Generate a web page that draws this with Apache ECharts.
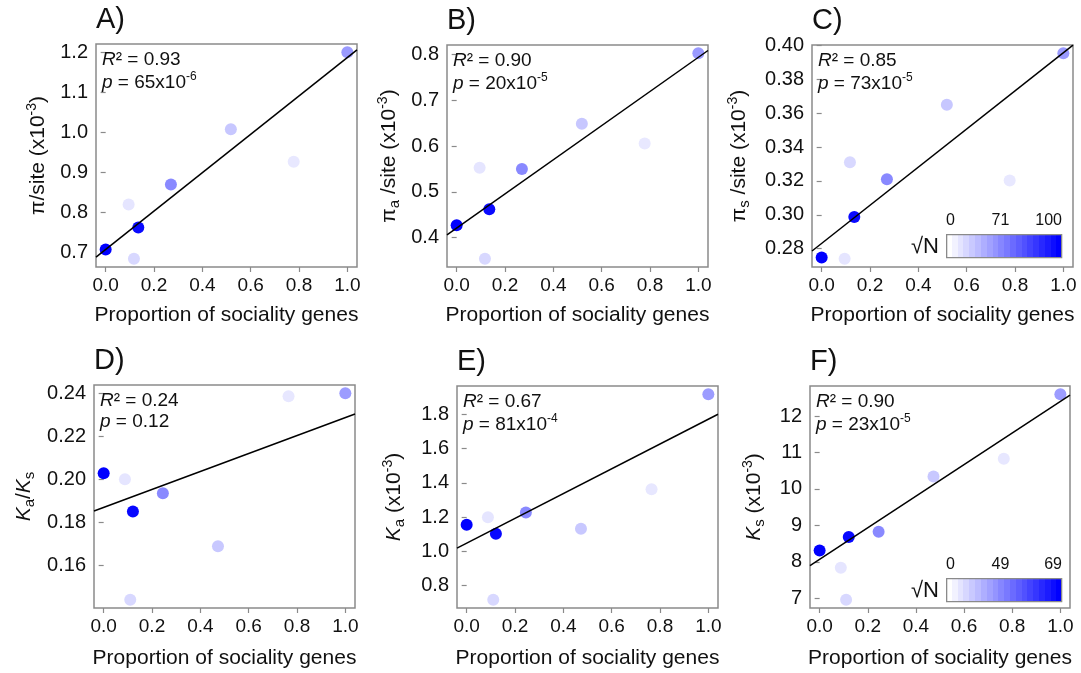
<!DOCTYPE html>
<html><head><meta charset="utf-8">
<script src="https://cdn.jsdelivr.net/npm/echarts@6/dist/echarts.min.js"></script>
<style>html,body{margin:0;padding:0;background:#fff}#c{width:1081px;height:673px}</style>
</head><body><div id="c"></div>
<script>
// ---------- DATA ----------
const xTop    = [0, 0.095, 0.117, 0.135, 0.27, 0.518, 0.778, 1.0];
const xBottom = [0, 0.088, 0.110, 0.121, 0.245, 0.473, 0.765, 1.0];
const sqrtNTop    = [100, 32, 39, 98, 68, 47, 30, 63];
const sqrtNBottom = [69, 22, 27, 68, 47, 32, 21, 43];

const yA = [0.708, 0.820, 0.685, 0.763, 0.870, 1.008, 0.927, 1.200];
const yB = [0.427, 0.553, 0.354, 0.462, 0.550, 0.649, 0.606, 0.803];
const yC = [0.2747, 0.2740, 0.3310, 0.2987, 0.3210, 0.3650, 0.3203, 0.3955];
const yD = [0.2028, 0.2000, 0.1440, 0.1850, 0.1935, 0.1689, 0.2386, 0.2400];
const yE = [1.155, 1.200, 0.718, 1.103, 1.227, 1.132, 1.363, 1.917];
const yF = [8.314, 7.840, 6.960, 8.680, 8.826, 10.340, 10.830, 12.600];

// regression lines: [intercept, slope]
const fitA = [0.708, 0.479];
const fitB = [0.421, 0.373];
const fitC = [0.2831, 0.1127];
const fitD = [0.1869, 0.0418];
const fitE = [1.0485, 0.7226];
const fitF = [8.068, 4.334];

const xTicks  = [0, 0.2, 0.4, 0.6, 0.8, 1.0];
const yTicksA = [0.7, 0.8, 0.9, 1.0, 1.1, 1.2];
const yTicksB = [0.4, 0.5, 0.6, 0.7, 0.8];
const yTicksC = [0.28, 0.30, 0.32, 0.34, 0.36, 0.38, 0.40];
const yTicksD = [0.16, 0.18, 0.20, 0.22, 0.24];
const yTicksE = [0.8, 1.0, 1.2, 1.4, 1.6, 1.8];
const yTicksF = [7, 8, 9, 10, 11, 12];

const panelLabels = ['A)', 'B)', 'C)', 'D)', 'E)', 'F)'];
const r2Values = ['0.93', '0.90', '0.85', '0.24', '0.67', '0.90'];
const pMantissa = ['65', '20', '73', '0.12', '81', '23'];
const pExponent = ['-6', '-5', '-5', '', '-4', '-5'];
const legendTop = ['0', '71', '100'];
const legendBottom = ['0', '49', '69'];
const xTitle = 'Proportion of sociality genes';

// ---------- LAYOUT ----------
const FONT = '"Liberation Sans", Arial, sans-serif';
const grids = [
  {left: 96,  top: 44,  width: 261, height: 223},
  {left: 447, top: 45,  width: 261, height: 222},
  {left: 812, top: 45,  width: 261, height: 222},
  {left: 94,  top: 385, width: 261, height: 223},
  {left: 457, top: 386, width: 261, height: 222},
  {left: 810, top: 386, width: 260, height: 222}
];
const yNameGap = [45, 45, 60, 57, 50, 43];
const xNameGap = [38, 38, 38, 40, 40, 40];

const panels = [
  {x: xTop, y: yA, s: sqrtNTop, fit: fitA, ticks: yTicksA, dec: 1,
   yName: '{t|π/site (x10}{sup|-3}{t|)}'},
  {x: xTop, y: yB, s: sqrtNTop, fit: fitB, ticks: yTicksB, dec: 1,
   yName: '{t|π}{sub|a}{t| /site (x10}{sup|-3}{t|)}'},
  {x: xTop, y: yC, s: sqrtNTop, fit: fitC, ticks: yTicksC, dec: 2,
   yName: '{t|π}{sub|s}{t| /site (x10}{sup|-3}{t|)}'},
  {x: xBottom, y: yD, s: sqrtNBottom, fit: fitD, ticks: yTicksD, dec: 2,
   yName: '{it|K}{sub|a}{t|/}{it|K}{sub|s}'},
  {x: xBottom, y: yE, s: sqrtNBottom, fit: fitE, ticks: yTicksE, dec: 1,
   yName: '{it|K}{sub|a}{t| (x10}{sup|-3}{t|)}'},
  {x: xBottom, y: yF, s: sqrtNBottom, fit: fitF, ticks: yTicksF, dec: 0,
   yName: '{it|K}{sub|s}{t| (x10}{sup|-3}{t|)}'}
];

const nameRich = {
  t:   {fontSize: 21, fontFamily: FONT, color: '#111'},
  it:  {fontSize: 21, fontFamily: FONT, color: '#111', fontStyle: 'italic'},
  sup: {fontSize: 14, fontFamily: FONT, color: '#111', verticalAlign: 'top', lineHeight: 26},
  sub: {fontSize: 15, fontFamily: FONT, color: '#111', verticalAlign: 'bottom', lineHeight: 26}
};

const gridOpt = [], xAxes = [], yAxes = [], series = [], titles = [], graphics = [], visualMaps = [];

function rangeOf(arr, pad) {
  const mn = Math.min(...arr), mx = Math.max(...arr);
  const d = (mx - mn) * pad;
  return [mn - d, mx + d];
}

panels.forEach((p, i) => {
  const g = grids[i];
  gridOpt.push({left: g.left, top: g.top, width: g.width, height: g.height,
    show: true, borderColor: '#8a8a8a', borderWidth: 1.5, backgroundColor: '#fff', containLabel: false});
  const xr = rangeOf(p.x, 0.04);
  const yr = rangeOf(p.y, 0.04);
  xAxes.push({
    type: 'value', gridIndex: i, min: xr[0], max: xr[1],
    name: xTitle, nameLocation: 'middle', nameGap: xNameGap[i],
    nameTextStyle: {fontSize: 21, fontFamily: FONT, color: '#111'},
    axisLine: {show: false},
    axisTick: {show: true, inside: false, length: 5, customValues: xTicks,
      lineStyle: {color: '#8a8a8a', width: 1.2}},
    axisLabel: {customValues: xTicks, margin: 9, fontSize: 19, fontFamily: FONT, color: '#111',
      formatter: v => v.toFixed(1)},
    splitLine: {show: false}
  });
  yAxes.push({
    type: 'value', gridIndex: i, min: yr[0], max: yr[1],
    name: p.yName, nameLocation: 'middle', nameRotate: 90, nameGap: yNameGap[i],
    nameTextStyle: {fontSize: 21, fontFamily: FONT, color: '#111', rich: nameRich},
    axisLine: {show: false},
    axisTick: {show: true, inside: false, length: 5, customValues: p.ticks,
      lineStyle: {color: '#8a8a8a', width: 1.2}},
    axisLabel: {customValues: p.ticks, margin: 8, fontSize: 20, fontFamily: FONT, color: '#111',
      formatter: v => v.toFixed(p.dec)},
    splitLine: {show: false}
  });
  const pts = p.x.map((xv, k) => [xv, p.y[k], p.s[k] * p.s[k]]);
  series.push({
    type: 'scatter', xAxisIndex: i, yAxisIndex: i, data: pts,
    symbol: 'circle', symbolSize: 12, z: 2, silent: true,
    itemStyle: {opacity: 1}
  });
  const lx = [xr[0], xr[1]];
  series.push({
    type: 'line', xAxisIndex: i, yAxisIndex: i, clip: true,
    data: lx.map(v => [v, p.fit[0] + p.fit[1] * v]),
    symbol: 'none', z: 3, silent: true,
    lineStyle: {color: '#000', width: 1.5}
  });
  // panel label
  titles.push({
    text: panelLabels[i], left: g.left, top: g.top - 39, padding: 0,
    textStyle: {fontSize: 29, fontWeight: 'normal', fontFamily: FONT, color: '#111'}
  });
  // stats annotation
  const statRich = {
    it: {fontSize: 19, fontStyle: 'italic', fontWeight: 'normal', fontFamily: FONT, color: '#111'},
    t: {fontSize: 19, fontWeight: 'normal', fontFamily: FONT, color: '#111'},
    sup: {fontSize: 12, fontWeight: 'normal', fontFamily: FONT, color: '#111', verticalAlign: 'top', lineHeight: 23}
  };
  titles.push({
    text: '{it|R}{t|² = ' + r2Values[i] + '}', left: g.left + 6, top: g.top + 6, padding: 0,
    textStyle: {rich: statRich, fontSize: 19, fontWeight: 'normal', fontFamily: FONT}
  });
  titles.push({
    text: '{it|p}{t| = ' + pMantissa[i] + (pExponent[i] ? 'x10' : '') + '}' + (pExponent[i] ? '{sup|' + pExponent[i] + '}' : ''),
    left: g.left + 6, top: g.top + 27, padding: 0,
    textStyle: {rich: statRich, fontSize: 19, fontWeight: 'normal', fontFamily: FONT}
  });
});

visualMaps.push({
  show: false, type: 'continuous', dimension: 2, min: 0, max: 100 * 100,
  seriesIndex: [0, 2, 4], inRange: {color: ['#ffffff', '#0000ff']}
});
visualMaps.push({
  show: false, type: 'continuous', dimension: 2, min: 0, max: 69 * 69,
  seriesIndex: [6, 8, 10], inRange: {color: ['#ffffff', '#0000ff']}
});

// stepped gradient for the colour-bar legends
const stops = [];
const nSteps = 20;
for (let k = 0; k < nSteps; k++) {
  const t = k / (nSteps - 1);
  const c = Math.round(255 * (1 - t));
  const col = 'rgb(' + c + ',' + c + ',255)';
  stops.push({offset: k / nSteps, color: col});
  stops.push({offset: (k + 1) / nSteps, color: col});
}
function colorBar(x, y, labels) {
  const w = 115, h = 23;
  graphics.push({type: 'rect', left: x, top: y, shape: {width: w, height: h},
    style: {fill: new echarts.graphic.LinearGradient(0, 0, 1, 0, stops), stroke: '#8a8a8a', lineWidth: 1.3}, z: 100});
  const ty = y - 21;
  graphics.push({type: 'text', x: x, y: ty, z: 100, style: {text: labels[0], fontSize: 16, fontFamily: FONT, fill: '#111', align: 'left', verticalAlign: 'top'}});
  graphics.push({type: 'text', x: x + w / 2 - 3, y: ty, z: 100, style: {text: labels[1], fontSize: 16, fontFamily: FONT, fill: '#111', align: 'center', verticalAlign: 'top'}});
  graphics.push({type: 'text', x: x + w + 1, y: ty, z: 100, style: {text: labels[2], fontSize: 16, fontFamily: FONT, fill: '#111', align: 'right', verticalAlign: 'top'}});
  graphics.push({type: 'text', x: x - 7, y: y + h / 2 + 1, z: 100, style: {text: '√N', fontSize: 22, fontFamily: FONT, fill: '#111', align: 'right', verticalAlign: 'middle'}});
}
colorBar(946, 234, legendTop);
colorBar(946, 578, legendBottom);

const chart = echarts.init(document.getElementById('c'), null, {renderer: 'canvas'});
chart.setOption({
  animation: false,
  backgroundColor: '#fff',
  grid: gridOpt, xAxis: xAxes, yAxis: yAxes, series: series,
  title: titles, visualMap: visualMaps, graphic: graphics
});
</script></body></html>
